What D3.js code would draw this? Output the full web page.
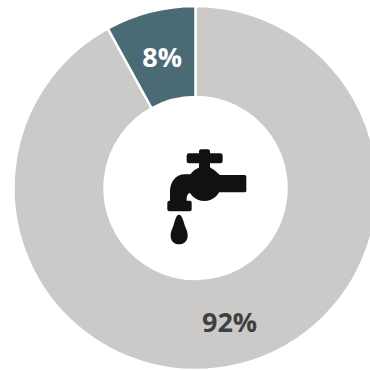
<!DOCTYPE html>
<html>
<head>
<meta charset="utf-8">
<script src="https://cdn.jsdelivr.net/npm/d3@7"></script>
<style>
  html, body { margin: 0; padding: 0; background: #fff; }
  svg { display: block; }
  text { font-family: "Open Sans", sans-serif; font-weight: 700; }
</style>
</head>
<body>
<svg id="chart" width="370" height="371"></svg>
<script>
const categories = ["Other", "Tap water"];
const shares = [92, 8];
const labels = ["92%", "8%"];
const colors = ["#cbcac8", "#4a6b75"];
const labelColors = ["#404040", "#ffffff"];

const svg = d3.select("#chart");
const cx = 195.5, cy = 188, outer = 182, inner = 91;

const root = svg.append("g").attr("transform", `translate(${cx},${cy})`);

const pie = d3.pie().sort(null).value((d, i) => shares[i]);
const arc = d3.arc().innerRadius(inner).outerRadius(outer);

const slices = pie(categories);

root.selectAll("path.slice")
  .data(slices)
  .join("path")
  .attr("class", "slice")
  .attr("d", arc)
  .attr("fill", (d, i) => colors[i])
  .attr("stroke", "#fff")
  .attr("stroke-width", 2.5);

// Percentage labels; positions are polar offsets from the ring's middle
const labelOffsets = [{ r: 137.4, a: 2.891 }, { r: 135.6, a: -0.249 }];
const labelSizes = [27, 27];
root.selectAll("text.share")
  .data(slices)
  .join("text")
  .attr("class", "share")
  .attr("text-anchor", "middle")
  .attr("dominant-baseline", "central")
  .attr("font-size", (d, i) => labelSizes[i])
  .attr("fill", (d, i) => labelColors[i])
  .attr("x", (d, i) => labelOffsets[i].r * Math.sin(labelOffsets[i].a))
  .attr("y", (d, i) => -labelOffsets[i].r * Math.cos(labelOffsets[i].a))
  .text((d, i) => labels[i]);

// Tap icon in the centre of the ring
const icon = svg.append("g")
  .attr("transform", "translate(140,130) scale(0.3333)")
  .attr("fill", "#111");

// Handle bar and stem
icon.append("rect").attr("x", 140).attr("y", 70).attr("width", 108).attr("height", 30).attr("rx", 7);
icon.append("rect").attr("x", 177).attr("y", 58).attr("width", 33).attr("height", 60).attr("rx", 6);
// Valve body with shoulders rising into the stem
icon.append("circle").attr("cx", 193).attr("cy", 162).attr("r", 51);
icon.append("path").attr("d", "M150,135 L178,112 L210,112 L240,135 Z");
// Spout to the right
icon.append("rect").attr("x", 190).attr("y", 135).attr("width", 129).attr("height", 52).attr("rx", 5);
// Elbow running down to the outlet
icon.append("path").attr("d",
  "M190,133 L135,133 C108,133 90,155 90,185 L90,220 L140,220 L140,205 C140,195 146,187 158,187 L190,187 Z");
// Outlet flange
icon.append("rect").attr("x", 82).attr("y", 212).attr("width", 73).attr("height", 32).attr("rx", 6);
// Falling drop
icon.append("path").attr("d",
  "M117,254 C126,254 130,272 135,288 C140,300 143,306 143,317 C143,332 132,343 117,343 C102,343 92,332 92,317 C92,306 95,300 100,288 C105,272 108,254 117,254 Z");
</script>
</body>
</html>
